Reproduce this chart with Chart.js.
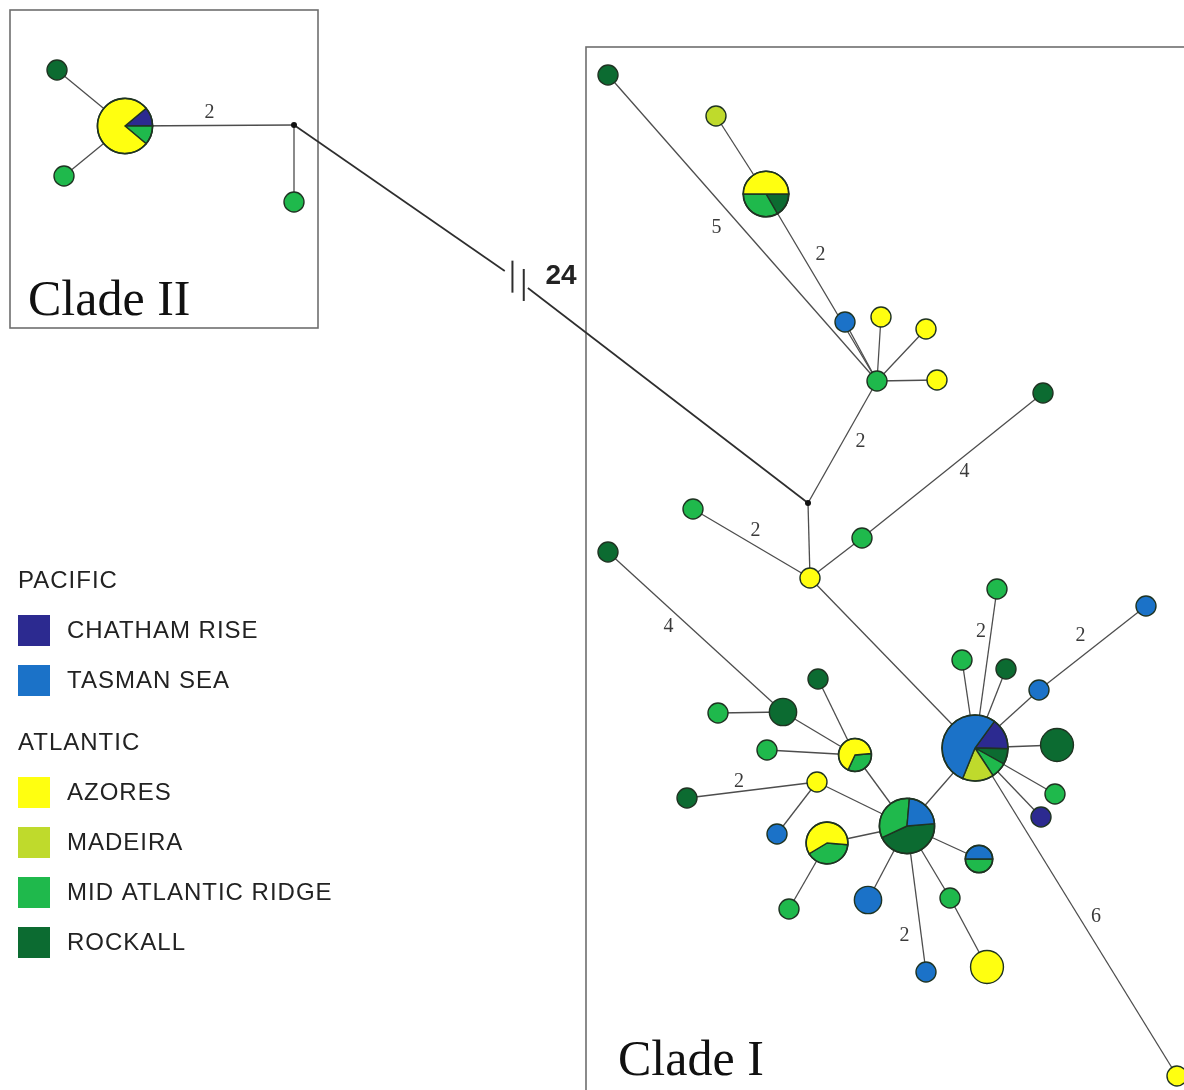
<!DOCTYPE html>
<html>
<head>
<meta charset="utf-8">
<script src="https://cdn.jsdelivr.net/npm/chart.js@4.4.1/dist/chart.umd.min.js"></script>
<style>
html,body{margin:0;padding:0;background:#ffffff;}
#wrap{width:1184px;height:1090px;position:relative;}
</style>
</head>
<body>
<div id="wrap"><canvas id="c" width="1184" height="1090"></canvas></div>
<script>
// ---------------- DATA ----------------
const populations = ['CHATHAM RISE','TASMAN SEA','AZORES','MADEIRA','MID ATLANTIC RIDGE','ROCKALL'];
const oceans      = ['PACIFIC','PACIFIC','ATLANTIC','ATLANTIC','ATLANTIC','ATLANTIC'];
const cladeNames  = ['Clade II','Clade I'];

// haplotype (node) positions in the network layout
const nodeX = [125,57,64,294,294, 808,608,716,766,877, 845,881,926,937,810, 693,862,1043,975,962,
               997,1006,1039,1146,1057, 1055,1041,1177,907,817, 855,827,868,926,950, 987,979,783,818,767,
               718,608,687,777,789];
const nodeY = [126,70,176,125,202, 503,75,116,194,381, 322,317,329,380,578, 509,538,393,748,660,
               589,669,690,606,745, 794,817,1076,826,782, 755,843,900,972,898, 967,859,712,679,750,
               713,552,798,834,909];

// number of individuals per haplotype and population
const chatham = [1,0,0,0,0, 0,0,0,0,0, 0,0,0,0,0, 0,0,0,2,0, 0,0,0,0,0, 0,1,0,0,0, 0,0,0,0,0, 0,0,0,0,0, 0,0,0,0,0];
const tasman  = [0,0,0,0,0, 0,0,0,0,0, 1,0,0,0,0, 0,0,0,7,0, 0,0,1,1,0, 0,0,0,2,0, 0,0,2,1,0, 0,1,0,0,0, 0,0,0,1,0];
const azores  = [7,0,0,0,0, 0,0,0,3,0, 0,1,1,1,1, 0,0,0,0,0, 0,0,0,0,0, 0,0,1,0,1, 2,3,0,0,0, 3,0,0,0,0, 0,0,0,0,0];
const madeira = [0,0,0,0,0, 0,0,1,0,0, 0,0,0,0,0, 0,0,0,2,0, 0,0,0,0,0, 0,0,0,0,0, 0,0,0,0,0, 0,0,0,0,0, 0,0,0,0,0];
const mar     = [1,0,1,0,1, 0,0,0,2,1, 0,0,0,0,0, 1,1,0,1,1, 1,0,0,0,0, 1,0,0,3,0, 1,2,0,0,1, 0,1,0,0,1, 1,0,0,0,1];
const rockall = [0,1,0,0,0, 0,1,0,1,0, 0,0,0,0,0, 0,0,1,1,0, 0,1,0,0,3, 0,0,0,4,0, 0,0,0,0,0, 0,0,2,1,0, 0,1,1,0,0];

// network edges and number of mutational steps
const edgeFrom  = [0,0,0,3,3, 6,7,8,10,11, 12,13,9,5,15, 16,16,14,18,18, 18,18,22,18,18, 18,18,18,28,28, 28,28,28,28,34, 28,30,30,30,37, 37,29,29,31];
const edgeTo    = [1,2,3,4,5, 9,8,9,9,9, 9,9,5,14,14, 14,17,18,19,20, 21,22,23,24,25, 26,27,28,29,30, 31,32,33,34,35, 36,37,38,39,40, 41,42,43,44];
const edgeSteps = [1,1,2,1,24, 5,1,2,1,1, 1,1,2,1,2, 1,4,1,1,2, 1,1,2,1,1, 1,6,1,1,1, 1,1,2,1,1, 1,1,1,1,1, 4,2,1,1];

// ---------------- STYLE ----------------
const popColors = {
  'CHATHAM RISE':'#2c2a90', 'TASMAN SEA':'#1b72c8', 'AZORES':'#ffff10',
  'MADEIRA':'#bfda2c', 'MID ATLANTIC RIDGE':'#1fb94c', 'ROCKALL':'#0c6b31'
};
const countsByPop = {
  'CHATHAM RISE':chatham, 'TASMAN SEA':tasman, 'AZORES':azores,
  'MADEIRA':madeira, 'MID ATLANTIC RIDGE':mar, 'ROCKALL':rockall
};
// clockwise slice order inside pies
const sliceOrder = ['CHATHAM RISE','ROCKALL','MID ATLANTIC RIDGE','MADEIRA','AZORES','TASMAN SEA'];
const pieStart = {0:-40, 8:0, 18:-54, 28:-5, 30:-5, 31:5, 36:0};   // degrees
const labelOffset = {2:[0,-13],5:[-26,0],7:[-1,-33],12:[18,0],14:[4,-13],16:[12,6],
                     19:[-5,-37],22:[-12,-12],26:[20,5],32:[-12,37],40:[-27,-5],41:[-13,-8],4:[10,-38]};
const breakEdge = 4, breakT = [0.41,0.455], breakMarks = [0.425,0.447], breakShift = -9;
const cladeBoxes = [{x0:10,y0:10,x1:318,y1:328,tx:28,ty:315},{x0:586,y0:47,x1:1210,y1:1110,tx:618,ty:1075}];

function nodeTotal(i){ return populations.reduce((s,p)=>s+countsByPop[p][i],0); }
function nodeRadius(i){ const n=nodeTotal(i); return n===0?3:1.2+8.8*Math.sqrt(n); }

// ---------------- DATASETS ----------------
const datasets = [];
edgeFrom.forEach((a,k)=>{
  const b = edgeTo[k];
  if(k===breakEdge){
    const pa = (t)=>({x:nodeX[a]+t*(nodeX[b]-nodeX[a]), y:nodeY[a]+t*(nodeY[b]-nodeY[a])+breakShift});
    datasets.push({type:'line',data:[{x:nodeX[a],y:nodeY[a]},pa(breakT[0])],borderColor:'#2e2e2e',borderWidth:1.7,pointRadius:0,tension:0});
    datasets.push({type:'line',data:[pa(breakT[1]),{x:nodeX[b],y:nodeY[b]}],borderColor:'#2e2e2e',borderWidth:1.7,pointRadius:0,tension:0});
  } else {
    datasets.push({type:'line',data:[{x:nodeX[a],y:nodeY[a]},{x:nodeX[b],y:nodeY[b]}],
      borderColor:'#4d4d4d',borderWidth:1.3,pointRadius:0,tension:0});
  }
});
const nodeDatasetIndex = datasets.length;
datasets.push({type:'scatter',data:nodeX.map((x,i)=>({x:x,y:nodeY[i]})),pointRadius:0,pointHoverRadius:0});

// ---------------- PLUGIN ----------------
const networkPlugin = {
  id:'network',
  beforeDatasetsDraw(chart){
    const {ctx, scales:{x,y}} = chart;
    ctx.save();
    ctx.strokeStyle='#6e6e6e'; ctx.lineWidth=1.6;
    cladeBoxes.forEach(b=>{
      const X0=x.getPixelForValue(b.x0), X1=x.getPixelForValue(b.x1);
      const Y0=y.getPixelForValue(b.y0), Y1=y.getPixelForValue(b.y1);
      ctx.strokeRect(X0,Y0,X1-X0,Y1-Y0);
    });
    ctx.restore();
  },
  afterDatasetsDraw(chart){
    const {ctx, scales:{x,y}} = chart;
    const meta = chart.getDatasetMeta(nodeDatasetIndex);
    ctx.save();
    // break marks on the long edge
    const a=edgeFrom[breakEdge], b=edgeTo[breakEdge];
    ctx.strokeStyle='#2e2e2e'; ctx.lineWidth=2;
    breakMarks.forEach(t=>{
      const px=x.getPixelForValue(nodeX[a]+t*(nodeX[b]-nodeX[a]));
      const py=y.getPixelForValue(nodeY[a]+t*(nodeY[b]-nodeY[a])+breakShift);
      ctx.beginPath(); ctx.moveTo(px,py-16); ctx.lineTo(px,py+16); ctx.stroke();
    });
    // nodes
    meta.data.forEach((el,i)=>{
      const cx=el.x, cy=el.y, r=nodeRadius(i), n=nodeTotal(i);
      if(n===0){
        ctx.fillStyle='#111'; ctx.beginPath(); ctx.arc(cx,cy,r,0,Math.PI*2); ctx.fill(); return;
      }
      const present = sliceOrder.filter(p=>countsByPop[p][i]>0);
      ctx.lineWidth=1.4; ctx.strokeStyle='#1f3322';
      if(present.length===1){
        ctx.fillStyle=popColors[present[0]];
        ctx.beginPath(); ctx.arc(cx,cy,r,0,Math.PI*2); ctx.fill(); ctx.stroke();
        return;
      }
      let ang=(pieStart[i]||0)*Math.PI/180;
      present.forEach(p=>{
        const sweep=countsByPop[p][i]/n*Math.PI*2;
        ctx.fillStyle=popColors[p];
        ctx.beginPath(); ctx.moveTo(cx,cy); ctx.arc(cx,cy,r,ang,ang+sweep); ctx.closePath();
        ctx.fill(); ctx.stroke();
        ang+=sweep;
      });
      ctx.lineWidth=1.6;
      ctx.beginPath(); ctx.arc(cx,cy,r,0,Math.PI*2); ctx.stroke();
    });
    // edge step labels
    ctx.textAlign='center'; ctx.textBaseline='middle';
    edgeSteps.forEach((s,k)=>{
      if(s<=1) return;
      const a=edgeFrom[k], b=edgeTo[k], off=labelOffset[k]||[0,0];
      const mx=(nodeX[a]+nodeX[b])/2+off[0], my=(nodeY[a]+nodeY[b])/2+off[1];
      if(k===breakEdge){ ctx.font='bold 28px "Liberation Sans", Arial, sans-serif'; ctx.fillStyle='#222'; }
      else { ctx.font='20px "Liberation Serif", "Times New Roman", serif'; ctx.fillStyle='#3a3a3a'; }
      ctx.fillText(String(s), x.getPixelForValue(mx), y.getPixelForValue(my));
    });
    // clade titles
    ctx.textAlign='left'; ctx.textBaseline='alphabetic';
    ctx.font='50px "Liberation Serif", "Times New Roman", serif'; ctx.fillStyle='#111';
    cladeNames.forEach((c,k)=>{
      ctx.fillText(c, x.getPixelForValue(cladeBoxes[k].tx), y.getPixelForValue(cladeBoxes[k].ty));
    });
    // legend
    ctx.font='24px "Liberation Sans", Arial, sans-serif'; ctx.fillStyle='#222';
    ctx.textBaseline='middle';
    try{ ctx.letterSpacing='1px'; }catch(e){}
    let ly=581; let lastOcean=null;
    populations.forEach((p,k)=>{
      if(oceans[k]!==lastOcean){
        if(lastOcean!==null) ly+=13;
        ctx.fillStyle='#222'; ctx.fillText(oceans[k],18,ly); ly+=49; lastOcean=oceans[k];
      }
      ctx.fillStyle=popColors[p]; ctx.fillRect(18,ly-15,32,31);
      ctx.fillStyle='#222'; ctx.fillText(p,67,ly+1);
      ly+=50;
    });
    ctx.restore();
  }
};

new Chart(document.getElementById('c').getContext('2d'),{
  type:'scatter',
  data:{datasets:datasets},
  options:{
    responsive:false, animation:false, devicePixelRatio:1, events:[],
    layout:{padding:0},
    plugins:{legend:{display:false}, tooltip:{enabled:false}, title:{display:false}},
    scales:{
      x:{type:'linear',min:0,max:1184,display:false},
      y:{type:'linear',min:0,max:1090,reverse:true,display:false}
    }
  },
  plugins:[networkPlugin]
});
</script>
</body>
</html>
